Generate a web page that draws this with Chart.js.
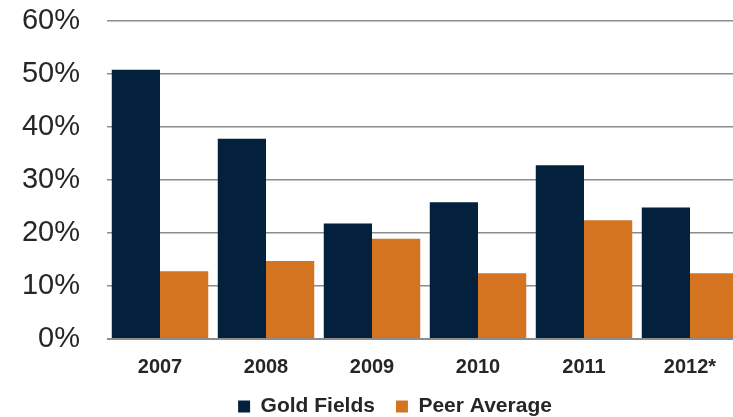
<!DOCTYPE html>
<html>
<head>
<meta charset="utf-8">
<script src="https://cdn.jsdelivr.net/npm/chart.js@4"></script>
<style>
  html, body { margin: 0; padding: 0; background: #fff; overflow: hidden; }
  #wrap { width: 783px; height: 417px; }
</style>
</head>
<body>
<div id="wrap"><canvas id="chart" width="783" height="417"></canvas></div>
<script>
// data
const years = ['2007', '2008', '2009', '2010', '2011', '2012*'];
const goldFields = [50.8, 37.8, 21.8, 25.8, 32.8, 24.8];
const peerAverage = [12.8, 14.7, 18.9, 12.4, 22.4, 12.4];
const yMax = 60;
const yStep = 10;

const navy = '#03203C';
const orange = '#D47420';
const textColor = '#262626';
const fontFamily = 'Arial, "Liberation Sans", sans-serif';

new Chart(document.getElementById('chart'), {
  type: 'bar',
  data: {
    labels: years,
    datasets: [
      { label: 'Gold Fields', data: goldFields, backgroundColor: navy, yAxisID: 'y' },
      { label: 'Peer Average', data: peerAverage, backgroundColor: orange, yAxisID: 'y' }
    ]
  },
  options: {
    responsive: false,
    animation: false,
    datasets: { bar: { categoryPercentage: 0.91, barPercentage: 1.0 } },
    layout: { padding: { left: 7, right: 0, top: 21, bottom: -10 } },
    plugins: {
      tooltip: { enabled: false },
      legend: {
        position: 'bottom',
        labels: {
          color: textColor,
          font: { family: fontFamily, size: 21, weight: 'bold' },
          boxWidth: 12,
          boxHeight: 12,
          padding: 21
        }
      }
    },
    scales: {
      x: {
        grid: { display: false },
        border: { display: false },
        ticks: {
          color: textColor,
          padding: 8,
          font: { family: fontFamily, size: 20, weight: 'bold' }
        },
        afterFit: (scale) => { scale.height = 36; }
      },
      y: {
        min: 0,
        max: yMax,
        border: { display: false },
        grid: {
          drawTicks: true,
          tickLength: 27,
          tickColor: 'rgba(0,0,0,0)',
          color: '#8c8c8c',
          lineWidth: (ctx) => (ctx.tick && ctx.tick.value === 0 ? 2 : 1.5)
        },
        ticks: {
          stepSize: yStep,
          color: textColor,
          padding: 0,
          font: { family: fontFamily, size: 29 },
          callback: (v) => v + '%'
        },
        afterFit: (scale) => { scale.width = 100; }
      },
      // empty right-hand spacer: the original chart ran past the crop on the right
      spacer: {
        position: 'right',
        grid: { display: false },
        border: { display: false },
        ticks: { display: false },
        afterFit: (scale) => { scale.width = 40; }
      }
    }
  }
});
</script>
</body>
</html>
